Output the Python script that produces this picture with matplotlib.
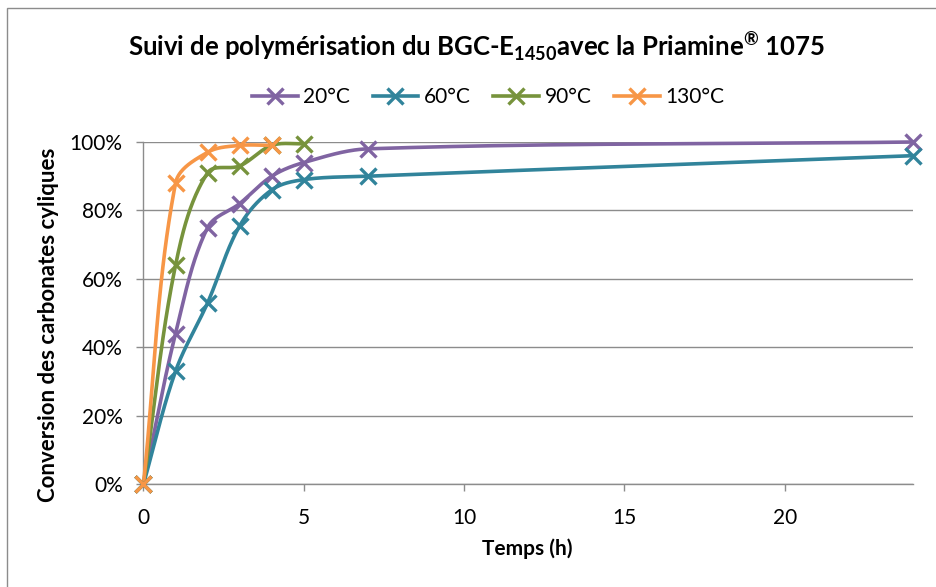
import numpy as np
import matplotlib
matplotlib.use("Agg")
import matplotlib.pyplot as plt
from matplotlib.patches import Rectangle
from matplotlib.ticker import FuncFormatter

plt.rcParams["font.family"] = ["Lato", "DejaVu Sans"]
plt.rcParams["mathtext.fontset"] = "custom"
plt.rcParams["mathtext.rm"] = "Lato"
plt.rcParams["mathtext.bf"] = "Lato:bold"

# data
LABELS = ["20°C", "60°C", "90°C", "130°C"]
COLORS = ["#8064A2", "#31849B", "#77933C", "#F79646"]

T_20 = [0, 1, 2, 3, 4, 5, 7, 24]
C_20 = [0.0, 0.44, 0.75, 0.82, 0.90, 0.94, 0.98, 1.00]
T_60 = [0, 1, 2, 3, 4, 5, 7, 24]
C_60 = [0.0, 0.33, 0.53, 0.755, 0.86, 0.89, 0.90, 0.96]
T_90 = [0, 1, 2, 3, 4, 5]
C_90 = [0.0, 0.64, 0.91, 0.93, 0.99, 0.995]
T_130 = [0, 1, 2, 3, 4]
C_130 = [0.0, 0.88, 0.97, 0.99, 0.99]

SERIES = [(T_20, C_20), (T_60, C_60), (T_90, C_90), (T_130, C_130)]

XMAX = 24
L, R, T, B = 143.5, 913, 142, 484  # plot area, px
AX_W, AX_H = R - L, B - T


def smooth(x, y, n=40):
    # Excel-like smoothed line, bezier in screen space with chord-scaled handles
    px = np.asarray(x, float) / XMAX * AX_W
    py = np.asarray(y, float) * AX_H
    P = np.column_stack([px, py])
    out = [P[0]]
    for i in range(len(P) - 1):
        p0 = P[i - 1] if i > 0 else P[i]
        p1, p2 = P[i], P[i + 1]
        p3 = P[i + 2] if i + 2 < len(P) else P[i + 1]
        seg_len = np.linalg.norm(p2 - p1)
        d1 = p2 - p0
        d2 = p3 - p1
        d1 = d1 / np.linalg.norm(d1)
        d2 = d2 / np.linalg.norm(d2)
        c1 = p1 + d1 * seg_len / 3
        c2 = p2 - d2 * seg_len / 3
        t = np.linspace(0, 1, n)[1:, None]
        seg = ((1 - t) ** 3) * p1 + 3 * ((1 - t) ** 2) * t * c1 + 3 * (1 - t) * t ** 2 * c2 + t ** 3 * p2
        out.extend(seg)
    out = np.array(out)
    return out[:, 0] / AX_W * XMAX, out[:, 1] / AX_H


fig = plt.figure(figsize=(9.37, 5.87), dpi=100)
fig.patches.append(Rectangle((7 / 937, -0.05), 1.1, 1 - 8 / 587 + 0.05, transform=fig.transFigure,
                             fill=False, edgecolor="#8c8c8c", linewidth=1.0))
ax = fig.add_axes([L / 937, 1 - B / 587, AX_W / 937, AX_H / 587])

for (t, c), lab, col in zip(SERIES, LABELS, COLORS):
    sx, sy = smooth(t, c)
    ax.plot(sx, sy, color=col, linewidth=2.6, zorder=3, clip_on=False)
    ax.plot(t, c, linestyle="none", marker="x", markersize=12, markeredgewidth=2.4,
            color=col, zorder=4, clip_on=False)
    ax.plot([], [], color=col, linewidth=2.6, marker="x", markersize=12,
            markeredgewidth=2.4, label=lab)

ax.set_xlim(0, XMAX)
ax.set_ylim(0, 1)
ax.set_xticks([0, 5, 10, 15, 20])
ax.set_yticks([0, 0.2, 0.4, 0.6, 0.8, 1.0])
ax.yaxis.set_major_formatter(FuncFormatter(lambda v, p: f"{v * 100:.0f}%"))
ax.grid(axis="y", color="#8c8c8c", linewidth=1.0, zorder=0)
ax.set_axisbelow(True)
for s in ["top", "right"]:
    ax.spines[s].set_visible(False)
for s in ["left", "bottom"]:
    ax.spines[s].set_color("#8c8c8c")
    ax.spines[s].set_linewidth(1.0)
ax.tick_params(axis="both", colors="#8c8c8c", labelcolor="black", labelsize=15,
               length=5, width=1)
ax.tick_params(axis="x", pad=12)
ax.tick_params(axis="y", pad=10)

ax.set_xlabel("Temps (h)", fontsize=15, fontweight="bold")
ax.set_ylabel("Conversion des carbonates cyliques", fontsize=16, fontweight="bold")
ax.xaxis.set_label_coords((527 - L) / AX_W, (B - 538) / AX_H)
ax.yaxis.set_label_coords((59 - L) / AX_W, (B - 325) / AX_H)

fig.text(477 / 937, 1 - 45 / 587,
         r"Suivi de polymérisation du BGC-E$_{\mathbf{1450}}$avec la Priamine$^{\mathbf{®}}$ 1075",
         ha="center", va="center", fontsize=18.5, fontweight="bold")

fig.legend(loc="center", bbox_to_anchor=(488 / 937, 1 - 97 / 587), ncol=4, frameon=False,
           fontsize=15, handlelength=2.2, columnspacing=1.1, handletextpad=0.25)

fig.savefig("out.png", dpi=100)
